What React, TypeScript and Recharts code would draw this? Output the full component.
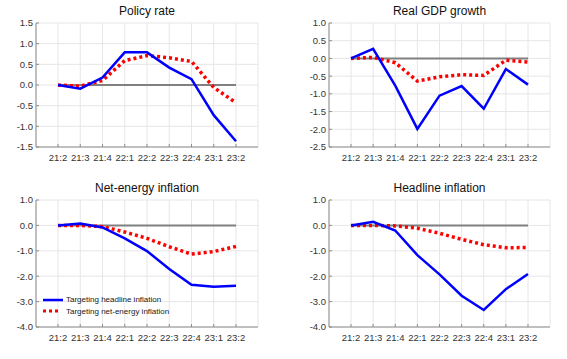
import {
  LineChart,
  Line,
  XAxis,
  YAxis,
  CartesianGrid,
  Legend,
} from "recharts";

const quarters = ["21:2", "21:3", "21:4", "22:1", "22:2", "22:3", "22:4", "23:1", "23:2"];
const baseline = [0, 0, 0, 0, 0, 0, 0, 0, 0];

const policyHeadline = [0, -0.09, 0.18, 0.79, 0.79, 0.42, 0.14, -0.73, -1.36];
const policyNetEnergy = [0, -0.03, 0.11, 0.59, 0.71, 0.66, 0.57, -0.06, -0.43];

const gdpHeadline = [0, 0.27, -0.77, -1.99, -1.05, -0.78, -1.42, -0.3, -0.74];
const gdpNetEnergy = [0, 0.03, -0.12, -0.64, -0.52, -0.46, -0.48, -0.05, -0.1];

const netEnergyHeadline = [0, 0.07, -0.08, -0.51, -1.01, -1.72, -2.34, -2.42, -2.38];
const netEnergyNetEnergy = [0, 0, -0.05, -0.26, -0.51, -0.84, -1.13, -1.03, -0.83];

const headlineHeadline = [0, 0.14, -0.2, -1.17, -1.93, -2.77, -3.33, -2.51, -1.91];
const headlineNetEnergy = [0, 0, -0.02, -0.11, -0.31, -0.55, -0.76, -0.88, -0.87];

const policyTicks = [-1.5, -1, -0.5, 0, 0.5, 1, 1.5];
const gdpTicks = [-2.5, -2, -1.5, -1, -0.5, 0, 0.5, 1];
const inflationTicks = [-4, -3, -2, -1, 0, 1];

const seriesNames = ["Targeting headline inflation", "Targeting net-energy inflation"];

const BLUE = "#0000FF";
const RED = "#FF0000";
const AXIS = "#8c8c8c";
const FONT = "'Liberation Sans', Arial, sans-serif";
const MARK = 3; // inward tick length, matlab style

const buildRows = (headline: number[], net: number[]) =>
  quarters.map((q, i) => ({ q, headline: headline[i], net: net[i], zero: baseline[i] }));

// custom ticks so the tick marks point into the box
const BottomTick = (props: any) => {
  const { x, y, payload } = props;
  const axisY = y - 7;
  return (
    <g>
      <line x1={x} x2={x} y1={axisY} y2={axisY - MARK} stroke={AXIS} />
      <text x={x} y={y} dy="0.71em" textAnchor="middle" fontSize={9.5} fill="#333" fontFamily={FONT}>
        {payload.value}
      </text>
    </g>
  );
};

const TopTick = (props: any) => {
  const { x, y } = props;
  return <line x1={x} x2={x} y1={y} y2={y + MARK} stroke={AXIS} />;
};

const LeftTick = (props: any) => {
  const { x, y, payload } = props;
  const axisX = x + 3;
  return (
    <g>
      <line x1={axisX} x2={axisX + MARK} y1={y} y2={y} stroke={AXIS} />
      <text x={x} y={y} dy="0.355em" textAnchor="end" fontSize={9.5} fill="#333" fontFamily={FONT}>
        {Number(payload.value).toFixed(1)}
      </text>
    </g>
  );
};

const RightTick = (props: any) => {
  const { x, y } = props;
  return <line x1={x} x2={x - MARK} y1={y} y2={y} stroke={AXIS} />;
};

const LegendBox = () => (
  <div style={{ fontFamily: FONT, fontSize: 8, color: "#222" }}>
    <div style={{ display: "flex", alignItems: "center", height: 11.5 }}>
      <svg width={20} height={6} style={{ marginRight: 3 }}>
        <line x1={0} y1={3} x2={20} y2={3} stroke={BLUE} strokeWidth={2.5} />
      </svg>
      {seriesNames[0]}
    </div>
    <div style={{ display: "flex", alignItems: "center", height: 11.5 }}>
      <svg width={20} height={6} style={{ marginRight: 3 }}>
        <line x1={0} y1={3} x2={18} y2={3} stroke={RED} strokeWidth={3} strokeDasharray="3 3" />
      </svg>
      {seriesNames[1]}
    </div>
  </div>
);

type PanelProps = {
  title: string;
  headline: number[];
  net: number[];
  ticks: number[];
  left: number;
  top: number;
  width: number;
  height: number;
  yWidth: number;
  margin: { top: number; right: number; bottom: number; left: number };
  legend?: boolean;
};

const Panel = ({ title, headline, net, ticks, left, top, width, height, yWidth, margin, legend }: PanelProps) => {
  const domain: [number, number] = [ticks[0], ticks[ticks.length - 1]];
  const plotW = width - yWidth - margin.right;
  return (
    <div style={{ position: "absolute", left, top, width, height }}>
      <div
        style={{
          position: "absolute",
          left: yWidth,
          width: plotW,
          top: margin.top - 19,
          textAlign: "center",
          fontFamily: FONT,
          fontSize: 12,
          color: "#111",
        }}
      >
        {title}
      </div>
      <LineChart width={width} height={height} data={buildRows(headline, net)} margin={margin}>
        <CartesianGrid stroke="#e6e6e6" />
        <XAxis
          dataKey="q"
          scale="point"
          padding={{ left: 22, right: 22 }}
          height={20}
          tickLine={false}
          tickSize={5}
          tickMargin={2}
          interval={0}
          axisLine={{ stroke: AXIS }}
          tick={BottomTick}
        />
        <XAxis
          xAxisId="top"
          dataKey="q"
          orientation="top"
          scale="point"
          padding={{ left: 22, right: 22 }}
          height={0}
          interval={0}
          tickLine={false}
          tickSize={0}
          tickMargin={0}
          tick={TopTick}
          axisLine={{ stroke: AXIS }}
        />
        <YAxis
          domain={domain}
          ticks={ticks}
          width={yWidth}
          tickLine={false}
          tickSize={3}
          tickMargin={0}
          interval={0}
          axisLine={{ stroke: AXIS }}
          tick={LeftTick}
          allowDataOverflow
        />
        <YAxis
          yAxisId="right"
          orientation="right"
          domain={domain}
          ticks={ticks}
          width={0}
          interval={0}
          tickLine={false}
          tickSize={0}
          tickMargin={0}
          tick={RightTick}
          axisLine={{ stroke: AXIS }}
        />
        <Line dataKey="zero" stroke="#808080" strokeWidth={2} dot={false} legendType="none" isAnimationActive={false} />
        <Line dataKey="net" name={seriesNames[1]} type="linear" stroke={RED} strokeWidth={3.5} strokeDasharray="3 3" dot={false} isAnimationActive={false} />
        <Line dataKey="headline" name={seriesNames[0]} type="linear" stroke={BLUE} strokeWidth={2.5} dot={false} isAnimationActive={false} />
        {legend && (
          <Legend
            layout="vertical"
            align="center"
            verticalAlign="middle"
            wrapperStyle={{ left: 43, top: 119, width: 180 }}
            content={() => <LegendBox />}
          />
        )}
      </LineChart>
    </div>
  );
};

export default function App() {
  return (
    <div style={{ position: "absolute", left: 0, top: 0, width: 567, height: 359, background: "#fff" }}>
      <Panel
        title="Policy rate"
        headline={policyHeadline}
        net={policyNetEnergy}
        ticks={policyTicks}
        left={0}
        top={0}
        width={283}
        height={175}
        yWidth={36}
        margin={{ top: 23, right: 25, bottom: 8, left: 0 }}
      />
      <Panel
        title="Real GDP growth"
        headline={gdpHeadline}
        net={gdpNetEnergy}
        ticks={gdpTicks}
        left={283}
        top={0}
        width={284}
        height={175}
        yWidth={46}
        margin={{ top: 23, right: 17, bottom: 8, left: 0 }}
      />
      <Panel
        title="Net-energy inflation"
        headline={netEnergyHeadline}
        net={netEnergyNetEnergy}
        ticks={inflationTicks}
        left={0}
        top={175}
        width={283}
        height={184}
        yWidth={36}
        margin={{ top: 25, right: 25, bottom: 12, left: 0 }}
        legend
      />
      <Panel
        title="Headline inflation"
        headline={headlineHeadline}
        net={headlineNetEnergy}
        ticks={inflationTicks}
        left={283}
        top={175}
        width={284}
        height={184}
        yWidth={46}
        margin={{ top: 25, right: 17, bottom: 12, left: 0 }}
      />
    </div>
  );
}
